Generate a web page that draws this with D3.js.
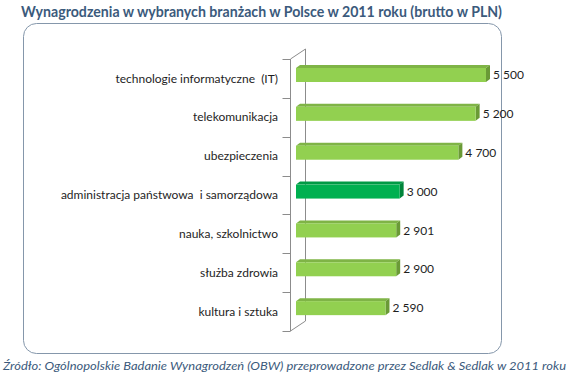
<!DOCTYPE html>
<html>
<head>
<meta charset="utf-8">
<script src="https://cdn.jsdelivr.net/npm/d3@7"></script>
<style>
  body { margin: 0; background: #fff; }
  text { font-family: Lato, "Open Sans", sans-serif; white-space: pre; }
</style>
</head>
<body>
<div id="chart"></div>
<script>
// data
const categories = [
  "technologie informatyczne  (IT)",
  "telekomunikacja",
  "ubezpieczenia",
  "administracja państwowa  i samorządowa",
  "nauka, szkolnictwo",
  "służba zdrowia",
  "kultura i sztuka"
];
const values = [5500, 5200, 4700, 3000, 2901, 2900, 2590];
const highlight = ["administracja państwowa  i samorządowa"];

const titleText = "Wynagrodzenia w wybranych branżach w Polsce w 2011 roku (brutto w PLN)";
const sourceText = "Źródło: Ogólnopolskie Badanie Wynagrodzeń (OBW) przeprowadzone przez Sedlak & Sedlak w 2011 roku";

const W = 569, H = 379;
const svg = d3.select("#chart").append("svg")
  .attr("width", W).attr("height", H);

// title
svg.append("text")
  .attr("x", 21).attr("y", 17)
  .attr("textLength", 481).attr("lengthAdjust", "spacingAndGlyphs")
  .attr("font-size", 15).attr("font-weight", "bold")
  .attr("fill", "#3b5a7c")
  .text(titleText);

// frame
svg.append("rect")
  .attr("x", 23.5).attr("y", 23.5)
  .attr("width", 478).attr("height", 330)
  .attr("rx", 13).attr("ry", 13)
  .attr("fill", "none").attr("stroke", "#8597ab").attr("stroke-width", 1);

// source
svg.append("text")
  .attr("x", 3).attr("y", 370)
  .attr("textLength", 563).attr("lengthAdjust", "spacingAndGlyphs")
  .attr("font-size", 12).attr("font-style", "italic")
  .attr("fill", "#3b5a7c")
  .text(sourceText);

// scales
const y = d3.scaleBand().domain(categories).range([59, 331]);
const x = d3.scaleLinear().domain([0, 5500]).range([296, 486]);
const fmt = d3.formatLocale({decimal: ",", thousands: " ", grouping: [3], currency: ["", " zł"]}).format(",d");

const depth = {dx: 15, dy: -10};   // 3D wall depth
const barDepth = {dx: 4, dy: 3};    // bar top / side depth
const faceOff = 9, faceH = 14;

// 3D axis wall
const axisX = 290.5;
const g = svg.append("g").attr("stroke", "#8c8c8c").attr("fill", "none");
g.append("path").attr("d",
  `M${axisX},${y.range()[0]}V${y.range()[1]}l${depth.dx},${depth.dy}V${y.range()[0] + depth.dy}Z`);

// ticks
const ticks = y.domain().map(d => y(d)).concat([y.range()[1]]);
g.selectAll("line.tick").data(ticks).enter().append("line")
  .attr("x1", axisX - 8).attr("x2", axisX)
  .attr("y1", d => Math.round(d) + 0.5).attr("y2", d => Math.round(d) + 0.5);

// category labels
svg.append("g").selectAll("text").data(categories).enter().append("text")
  .attr("x", 278)
  .attr("y", d => y(d) + y.bandwidth() / 2)
  .attr("dy", "0.35em")
  .attr("text-anchor", "end")
  .attr("font-size", 12)
  .attr("fill", "#1e1e1e")
  .text(d => d);

const colors = {
  normal: {face: "#92d050", top: "#7fb446", side: "#6a9a36"},
  hi: {face: "#00b050", top: "#009a45", side: "#00843a"}
};

const bars = svg.append("g").selectAll("g.bar")
  .data(categories.map((c, i) => ({cat: c, val: values[i]})))
  .enter().append("g").attr("class", "bar");

bars.each(function (d) {
  const c = highlight.includes(d.cat) ? colors.hi : colors.normal;
  const x0 = x(0), x1 = x(d.val);
  const y0 = y(d.cat) + faceOff, y1 = y0 + faceH;
  const sel = d3.select(this);
  // top face
  sel.append("path")
    .attr("d", `M${x0},${y0}L${x0 + barDepth.dx},${y0 - barDepth.dy}L${x1 + barDepth.dx},${y0 - barDepth.dy}L${x1},${y0}Z`)
    .attr("fill", c.top);
  // side face
  sel.append("path")
    .attr("d", `M${x1},${y0}L${x1 + barDepth.dx},${y0 - barDepth.dy}L${x1 + barDepth.dx},${y1 - barDepth.dy}L${x1},${y1}Z`)
    .attr("fill", c.side);
  // front face
  sel.append("rect")
    .attr("x", x0).attr("y", y0)
    .attr("width", x1 - x0).attr("height", faceH)
    .attr("fill", c.face);
  // value label
  sel.append("text")
    .attr("x", x1 + barDepth.dx + 3)
    .attr("y", y0 + faceH / 2)
    .attr("dy", "0.35em")
    .attr("font-size", 12)
    .attr("fill", "#1e1e1e")
    .text(fmt(d.val));
});
</script>
</body>
</html>
